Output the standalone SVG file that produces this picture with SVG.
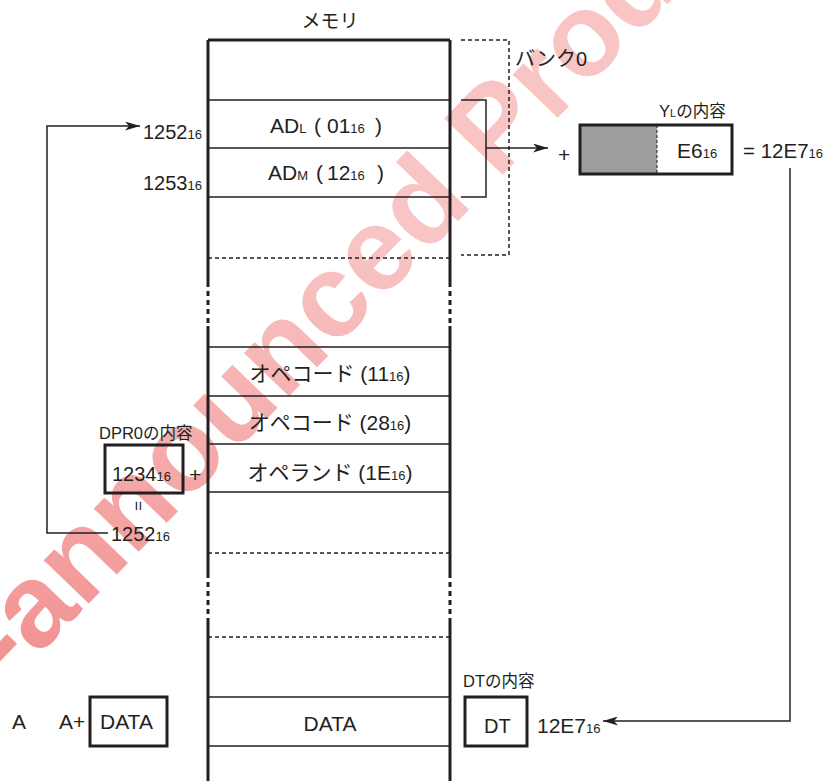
<svg xmlns="http://www.w3.org/2000/svg" width="826" height="781" viewBox="0 0 826 781">
<style>
.t{font-family:"Liberation Sans","Noto Sans CJK JP",sans-serif;fill:#231f20;font-size:21px}
.n{font-size:20px}
.m{font-size:16.5px}
.sub{font-size:13px}
.m .sub{font-size:11px}
.thick{stroke:#231f20;stroke-width:3;fill:none}
.thin{stroke:#231f20;stroke-width:1.5;fill:none}
.dash{stroke:#231f20;stroke-width:1.5;fill:none;stroke-dasharray:4 3}
.dot{stroke:#231f20;stroke-width:3;fill:none;stroke-dasharray:5 4}
</style>
<defs>
<marker id="arr" viewBox="0 0 15 9" refX="15" refY="4.5" markerWidth="15" markerHeight="9" orient="auto" markerUnits="userSpaceOnUse">
<path d="M0,0 L15,4.5 L0,9 L4,4.5 Z" fill="#231f20"/>
</marker>
<linearGradient id="wm" gradientUnits="userSpaceOnUse" x1="0" y1="700" x2="620" y2="0">
<stop offset="0" stop-color="#ea4a4a"/>
<stop offset="1" stop-color="#f8c4c4"/>
</linearGradient>
</defs>
<rect width="826" height="781" fill="#ffffff"/>
<g id="watermark">
<text transform="translate(10,685) rotate(-46)" x="0" y="0" style="font-family:'Liberation Sans',sans-serif;font-weight:bold;font-size:118px" fill="url(#wm)">-announced Product</text>
</g>
<g id="memory">
<line class="thick" x1="208" y1="40" x2="450" y2="40"/>
<path class="thick" d="M208,40 V287 M208,326 V578 M208,618 V781 M450,40 V287 M450,326 V578 M450,618 V781"/>
<path class="dot" d="M208,291 V323 M208,582 V614 M450,291 V323 M450,582 V614"/>
<path class="thin" d="M208,100 H450 M208,148 H450 M208,197 H450 M208,347 H450 M208,396 H450 M208,444 H450 M208,492 H450 M208,697 H450 M208,746 H450"/>
<path class="dash" d="M208,258 H450 M208,553 H450 M208,637 H450"/>
<text class="t" style="font-size:19px" x="330" y="28" text-anchor="middle">メモリ</text>
<text class="t" x="270" y="133">AD<tspan class="sub">L</tspan><tspan x="314">(</tspan><tspan x="327">01</tspan><tspan class="sub">16</tspan><tspan x="375">)</tspan></text>
<text class="t" x="268" y="180">AD<tspan class="sub">M</tspan><tspan x="316">(</tspan><tspan x="327">12</tspan><tspan class="sub">16</tspan><tspan x="377">)</tspan></text>
<text class="t" x="330" y="381" text-anchor="middle">オペコード (11<tspan class="sub">16</tspan>)</text>
<text class="t" x="330" y="430" text-anchor="middle">オペコード (28<tspan class="sub">16</tspan>)</text>
<text class="t" x="330" y="480" text-anchor="middle">オペランド (1E<tspan class="sub">16</tspan>)</text>
<text class="t" x="330" y="731" text-anchor="middle">DATA</text>
</g>
<g id="addr-labels">
<text class="t n" x="143" y="139">1252<tspan class="sub">16</tspan></text>
<text class="t n" x="143" y="190">1253<tspan class="sub">16</tspan></text>
</g>
<g id="bank0">
<path class="dash" d="M461,40 H509 V255 H461"/>
<text class="t n" x="515" y="66">バンク0</text>
</g>
<g id="yl">
<text class="t m" x="659" y="117">Y<tspan class="sub">L</tspan>の内容</text>
<rect x="580" y="125" width="77" height="49" fill="#9d9d9d"/>
<line x1="657" y1="125" x2="657" y2="174" stroke="#231f20" stroke-width="1" stroke-dasharray="3 2"/>
<rect class="thick" x="580" y="125" width="152" height="49"/>
<text class="t" x="677" y="158">E6<tspan class="sub">16</tspan></text>
<text class="t" x="558" y="162">+</text>
<text class="t" style="font-size:20.5px" x="743" y="158">= 12E7<tspan class="sub">16</tspan></text>
</g>
<g id="dpr0">
<text class="t m" x="99" y="439">DPR0の内容</text>
<rect class="thick" x="105" y="445" width="78" height="48"/>
<text class="t n" x="112" y="481">1234<tspan class="sub">16</tspan></text>
<text class="t" x="189" y="482">+</text>
<text class="t" style="font-size:17px" transform="translate(139,506) rotate(90)" text-anchor="middle" y="6">=</text>
<text class="t n" x="111" y="541">1252<tspan class="sub">16</tspan></text>
</g>
<g id="data-src">
<text class="t" x="12" y="729">A</text>
<text class="t" x="59" y="729">A+</text>
<rect class="thick" x="90" y="697" width="77" height="49"/>
<text class="t" x="100" y="729">DATA</text>
</g>
<g id="dt">
<text class="t m" x="463" y="687">DTの内容</text>
<rect class="thick" x="465" y="697" width="62" height="49"/>
<text class="t n" x="484" y="733">DT</text>
<text class="t" x="537" y="733">12E7<tspan class="sub">16</tspan></text>
</g>
<g id="connectors">
<path class="thin" d="M461,100 H486 V197 H461"/>
<path class="thin" d="M486,148 H548" marker-end="url(#arr)"/>
<path class="thin" d="M108,533 H47 V126 H140" marker-end="url(#arr)"/>
<path class="thin" d="M790,168 V721 H603" marker-end="url(#arr)"/>
</g>
</svg>
